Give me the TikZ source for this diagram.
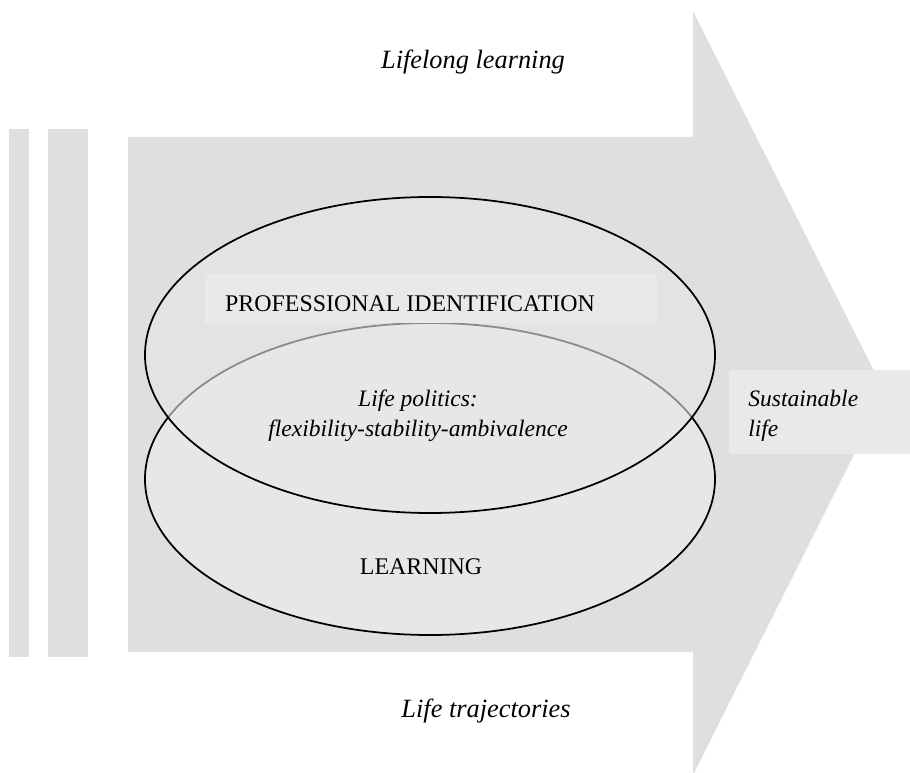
\documentclass[tikz,border=0pt]{standalone}
\usepackage{fontspec}
\setmainfont{Liberation Serif}
\usepackage{tikz}
\usetikzlibrary{positioning}
\definecolor{shaftgray}{gray}{0.875}
\definecolor{ovalgray}{gray}{0.905}
\definecolor{boxgray}{gray}{0.915}
\tikzset{
	oval/.style={draw=black, line width=1pt, fill=ovalgray},
	txt/.style={font=\fontsize{13.6}{17}\selectfont, inner sep=0pt},
	itxt/.style={font=\fontsize{13.4}{17}\selectfont\itshape, inner sep=0pt},
	bigitxt/.style={font=\fontsize{15}{18}\selectfont\itshape, inner sep=0pt},
}

\begin{document}
\begin{tikzpicture}[x=0.02cm, y=-0.02cm]
		\useasboundingbox (0,0) rectangle (910,773);
		\fill[white] (0,0) rectangle (910,773);
		% bars and the big arrow
		\fill[shaftgray] (9,129) rectangle (29,657);
		\fill[shaftgray] (48,129) rectangle (88,657);
		\fill[shaftgray] (128,137) -- (693,137) -- (693,11) -- (885,393) -- (693,775) -- (693,652) -- (128,652) -- cycle;
		% the two ovals
		\draw[oval] (430,479) ellipse (285 and 156);
		\draw[oval, fill opacity=0.6] (430,355) ellipse (285 and 158);
		\fill[boxgray] (205,274) rectangle (657,323);
		\fill[boxgray] (729,370) rectangle (910,454);
		% texts
		\node[bigitxt, anchor=base] (lifelong) at (473,69) {Lifelong learning};
		\node[txt, anchor=base] (prof) at (410,312) {PROFESSIONAL IDENTIFICATION};
		\node[itxt, align=center] (politics) at (418,416) {Life politics:\\flexibility-stability-ambivalence};
		\node[txt, anchor=base] (learn) at (421,575) {LEARNING};
		\node[itxt, align=left, anchor=west] (sustain) at (748,416) {Sustainable\\life};
		\node[bigitxt, anchor=base] (traject) at (486,717) {Life trajectories};
	\end{tikzpicture}
\end{document}
